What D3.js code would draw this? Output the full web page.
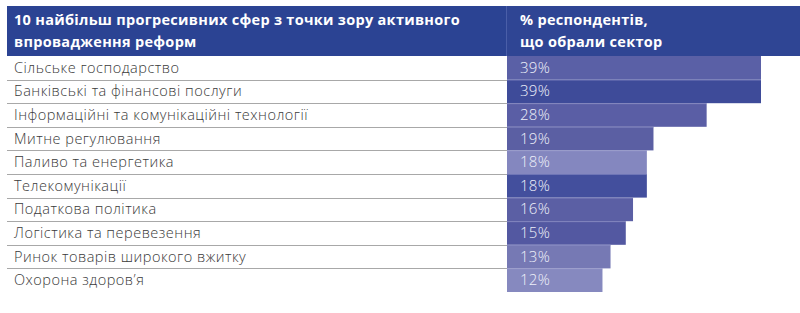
<!DOCTYPE html>
<html>
<head>
<meta charset="utf-8">
<script src="https://cdn.jsdelivr.net/npm/d3@7"></script>
<style>
  body { margin: 0; background: #fff; }
  svg { display: block; font-family: "Open Sans", Lato, sans-serif; }
</style>
</head>
<body>
<div id="chart"></div>
<script>
// Data
const sectors = [
  'Сільське господарство',
  'Банківські та фінансові послуги',
  'Інформаційні та комунікаційні технології',
  'Митне регулювання',
  'Паливо та енергетика',
  'Телекомунікації',
  'Податкова політика',
  'Логістика та перевезення',
  'Ринок товарів широкого вжитку',
  'Охорона здоров’я'
];
const shares = [39, 39, 28, 19, 18, 18, 16, 15, 13, 12];
const headerLeft = ['10 найбільш прогресивних сфер з точки зору активного', 'впровадження реформ'];
const headerRight = ['% респондентів,', 'що обрали сектор'];

// Styles
const barColors = ['#5a60a6', '#3e4b99', '#5a5ea5', '#5b5fa3', '#8487bf',
                   '#434f9d', '#5b5fa4', '#5358a1', '#7679b4', '#8689bf'];

const width = 800, height = 313;
const margin = { top: 56, left: 7, bottom: 21 };
const splitX = 507;

const svg = d3.select('#chart')
  .append('svg')
  .attr('width', width)
  .attr('height', height);

// Scales
const yScale = d3.scaleBand()
  .domain(sectors)
  .range([margin.top, height - margin.bottom])
  .paddingInner(0);

// bar lengths in the source grow like a square root, with zero left of the column
const xScale = d3.scaleSqrt()
  .domain([0, d3.max(shares)])
  .range([405, 761]);

// Header
const header = svg.append('g').attr('class', 'header');
header.append('rect')
  .attr('x', margin.left).attr('y', 6)
  .attr('width', splitX - margin.left).attr('height', margin.top - 6)
  .attr('fill', '#2b4393');
header.append('rect')
  .attr('x', splitX).attr('y', 6)
  .attr('width', width - splitX).attr('height', margin.top - 6)
  .attr('fill', '#2f4594');
header.append('line')
  .attr('x1', splitX - 0.5).attr('x2', splitX - 0.5)
  .attr('y1', 6).attr('y2', margin.top)
  .attr('stroke', '#4a5ea8').attr('stroke-width', 1);

const headText = (lines, x) => {
  const t = header.append('text')
    .attr('fill', '#fff')
    .attr('font-size', 14.5)
    .attr('font-weight', 700)
    .attr('letter-spacing', 0.3);
  lines.forEach((l, i) => {
    t.append('tspan').attr('x', x).attr('y', 25 + i * 21.5).text(l);
  });
};
headText(headerLeft, 14);
headText(headerRight, 520);

// Row separators (left column)
svg.append('g')
  .selectAll('line')
  .data(sectors.slice(0, -1))
  .join('line')
  .attr('x1', margin.left).attr('x2', splitX)
  .attr('y1', d => Math.round(yScale(d) + yScale.bandwidth()) + 0.5)
  .attr('y2', d => Math.round(yScale(d) + yScale.bandwidth()) + 0.5)
  .attr('stroke', '#a8a8a8')
  .attr('stroke-width', 1);

// Labels
svg.append('g')
  .selectAll('text')
  .data(sectors)
  .join('text')
  .attr('x', 14)
  .attr('y', d => yScale(d) + yScale.bandwidth() / 2 + 5)
  .attr('fill', '#3a3a3a')
  .attr('font-size', 14.5)
  .attr('font-weight', 300)
  .attr('letter-spacing', 0.5)
  .text(d => d);

// Bars
const rows = sectors.map((s, i) => ({ sector: s, value: shares[i], color: barColors[i] }));

svg.append('g')
  .selectAll('rect')
  .data(rows)
  .join('rect')
  .attr('x', splitX)
  .attr('y', d => yScale(d.sector))
  .attr('width', d => xScale(d.value) - splitX)
  .attr('height', yScale.bandwidth())
  .attr('fill', d => d.color);

// thin light seam between bars
svg.append('g')
  .selectAll('line')
  .data(rows.slice(1))
  .join('line')
  .attr('x1', splitX)
  .attr('x2', (d, i) => Math.min(xScale(d.value), xScale(rows[i].value)))
  .attr('y1', d => yScale(d.sector) + 0.5)
  .attr('y2', d => yScale(d.sector) + 0.5)
  .attr('stroke', '#9a9cd0')
  .attr('stroke-opacity', 0.5);

svg.append('g')
  .selectAll('text')
  .data(rows)
  .join('text')
  .attr('x', 520)
  .attr('y', d => yScale(d.sector) + yScale.bandwidth() / 2 + 5)
  .attr('fill', '#eef0fa')
  .attr('font-size', 15)
  .attr('font-weight', 300)
  .attr('letter-spacing', 0.3)
  .text(d => d.value + '%');
</script>
</body>
</html>
